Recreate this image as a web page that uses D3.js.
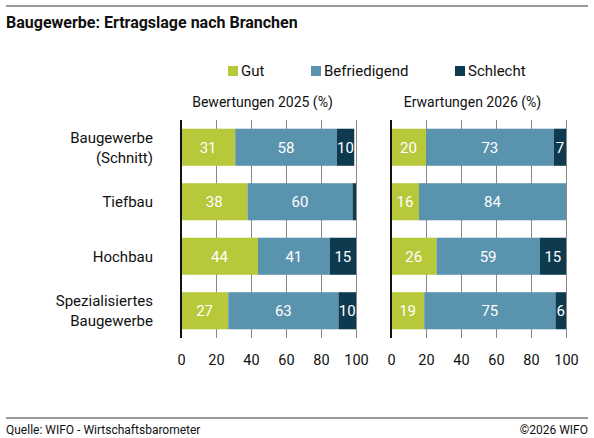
<!DOCTYPE html>
<html>
<head>
<meta charset="utf-8">
<script src="https://cdn.jsdelivr.net/npm/d3@7"></script>
<style>
  body { margin: 0; background: #fff; }
  svg { font-family: Roboto, "Liberation Sans", sans-serif; }
</style>
</head>
<body>
<script>
// data
const categories = [["Baugewerbe", "(Schnitt)"], ["Tiefbau"], ["Hochbau"], ["Spezialisiertes", "Baugewerbe"]];
const seriesNames = ["Gut", "Befriedigend", "Schlecht"];
const panelTitles = ["Bewertungen 2025 (%)", "Erwartungen 2026 (%)"];
const gut2025 = [31, 38, 44, 27];
const befr2025 = [58, 60, 41, 63];
const schl2025 = [10, 2, 15, 10];
const gut2026 = [20, 16, 26, 19];
const befr2026 = [73, 84, 59, 75];
const schl2026 = [7, 0, 15, 6];
const tickValues = [0, 20, 40, 60, 80, 100];

const colors = ["#b7c83a", "#5a93ad", "#0e3a50"];
const W = 594, H = 438;

let svg = d3.select("body").append("svg").attr("width", W).attr("height", H);

// frame lines + title + footer
svg.append("line").attr("x1", 6).attr("x2", 588).attr("y1", 6).attr("y2", 6)
	.attr("stroke", "#777").attr("stroke-width", 1.5);
svg.append("line").attr("x1", 6).attr("x2", 588).attr("y1", 418).attr("y2", 418)
	.attr("stroke", "#777").attr("stroke-width", 1.5);
svg.append("text").attr("x", 6).attr("y", 28).text("Baugewerbe: Ertragslage nach Branchen")
	.style("font-weight", "bold").style("font-size", "16px").attr("fill", "#111");
svg.append("text").attr("x", 6).attr("y", 434).text("Quelle: WIFO - Wirtschaftsbarometer")
	.style("font-size", "12px").attr("fill", "#111");
svg.append("text").attr("x", 588).attr("y", 434).attr("text-anchor", "end").text("©2026 WIFO")
	.style("font-size", "12px").attr("fill", "#111");

// legend
let legendX = [228, 311, 455];
seriesNames.forEach(function(n, i) {
	svg.append("rect").attr("x", legendX[i]).attr("y", 66).attr("width", 10).attr("height", 10)
		.attr("fill", colors[i]);
	svg.append("text").attr("x", legendX[i] + 13).attr("y", 76).text(n)
		.style("font-size", "15px").attr("fill", "#111");
});

let y = d3.scaleBand().domain(d3.range(categories.length)).range([120, 338])
	.paddingInner(0.32).paddingOuter(0.16);

// category labels
categories.forEach(function(lines, i) {
	let cy = y(i) + y.bandwidth() / 2;
	let t = svg.append("text").attr("text-anchor", "end").style("font-size", "15px").attr("fill", "#111");
	lines.forEach(function(l, j) {
		t.append("tspan").attr("x", 153)
			.attr("y", cy + (j - (lines.length - 1) / 2) * 20)
			.attr("dy", "0.35em").text(l);
	});
});

let panels = [
	{ range: [181, 356], gut: gut2025, befr: befr2025, schl: schl2025 },
	{ range: [391, 566], gut: gut2026, befr: befr2026, schl: schl2026 }
];

panels.forEach(function(p, pi) {
	let x = d3.scaleLinear().domain([0, 100]).range(p.range);
	let g = svg.append("g");

	g.append("text").attr("x", (p.range[0] + p.range[1]) / 2 - 6).attr("y", 107)
		.attr("text-anchor", "middle").text(panelTitles[pi])
		.style("font-size", "14px").attr("fill", "#111");

	// gridlines
	let grid = g.append("g").attr("transform", "translate(0,338)")
		.call(d3.axisBottom(x).tickValues(tickValues.slice(1)).tickSize(-218).tickFormat(""));
	grid.select(".domain").remove();
	grid.selectAll(".tick line").attr("stroke", "#888").attr("stroke-width", 1);

	let rows = categories.map(function(c, i) {
		return { i: i, Gut: p.gut[i], Befriedigend: p.befr[i], Schlecht: p.schl[i] };
	});
	let stack = d3.stack().keys(seriesNames)(rows);

	stack.forEach(function(s, si) {
		g.selectAll(null).data(s).enter().append("rect")
			.attr("x", d => x(d[0]))
			.attr("y", d => y(d.data.i))
			.attr("width", d => x(d[1]) - x(d[0]))
			.attr("height", y.bandwidth())
			.attr("fill", colors[si]);
		g.selectAll(null).data(s.filter(d => d[1] - d[0] >= 5)).enter().append("text")
			.attr("x", d => x((d[0] + d[1]) / 2))
			.attr("y", d => y(d.data.i) + y.bandwidth() / 2)
			.attr("dy", "0.35em").attr("text-anchor", "middle")
			.style("font-size", "15px").attr("fill", "#fff")
			.text(d => d[1] - d[0]);
	});

	// zero line
	g.append("line").attr("x1", x(0)).attr("x2", x(0)).attr("y1", 120).attr("y2", 338)
		.attr("stroke", "#111").attr("stroke-width", 2);

	// tick labels
	let ax = g.append("g").attr("transform", "translate(0,349)")
		.call(d3.axisBottom(x).tickValues(tickValues).tickSize(0).tickPadding(6));
	ax.select(".domain").remove();
	ax.selectAll("text").style("font-size", "14.5px").attr("fill", "#111")
		.style("font-family", "Roboto, 'Liberation Sans', sans-serif");
});
</script>
</body>
</html>
